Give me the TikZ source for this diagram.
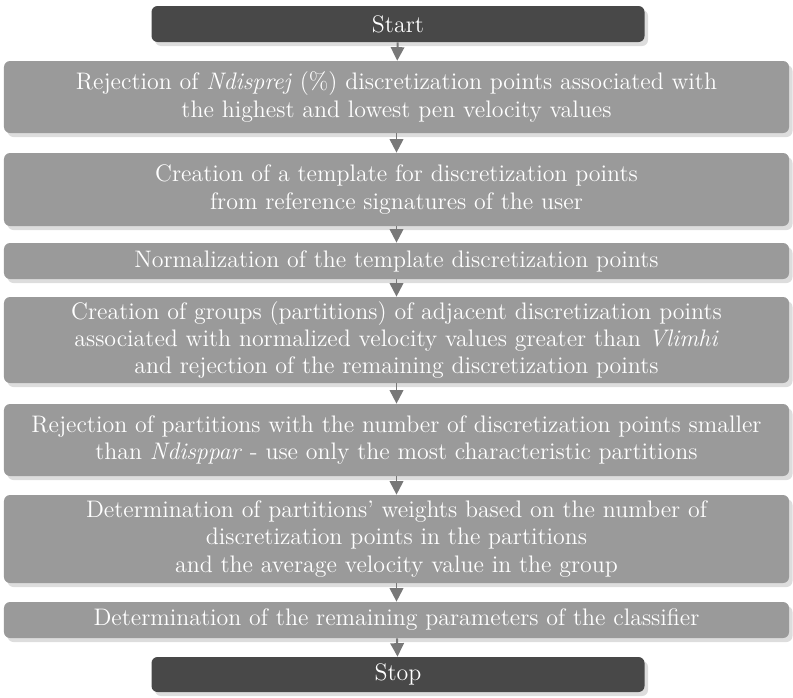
\documentclass[tikz,border=0pt]{standalone}
\usepackage{tikz}
\usetikzlibrary{positioning,shadows,arrows.meta}
\usepackage{xcolor}
\definecolor{darkbox}{HTML}{484848}
\definecolor{greybox}{HTML}{9A9A9A}
\definecolor{shadowgrey}{HTML}{DDDDDD}
\definecolor{arrowgrey}{HTML}{787878}

\tikzset{
  stepbox/.style={rounded corners=0.12cm,fill=greybox,text=white,align=center,
    minimum width=15.7cm,inner sep=2pt,
    drop shadow={shadow xshift=0.07cm,shadow yshift=-0.08cm,fill=shadowgrey,opacity=1}},
  endbox/.style={stepbox,fill=darkbox,minimum width=9.86cm},
  flow/.style={draw=arrowgrey,line width=1.1pt,-{Triangle[width=0.27cm,length=0.27cm]}}
}

\begin{document}
\begin{tikzpicture}[font=\fontsize{13.6}{15.4}\selectfont]
\useasboundingbox (0,0) rectangle (15.86,-13.94);
\node[endbox,minimum height=0.72cm] (start) at (7.96,-0.48) {Start};
\node[stepbox,minimum height=1.44cm] (rejpts) at (7.93,-1.94) {Rejection of \textit{Ndisprej} (\%) discretization points associated with\\the highest and lowest pen velocity values};
\node[stepbox,minimum height=1.46cm] (template) at (7.93,-3.79) {Creation of a template for discretization points\\from reference signatures of the user};
\node[stepbox,minimum height=0.72cm] (normal) at (7.93,-5.22) {Normalization of the template discretization points};
\node[stepbox,minimum height=1.72cm] (groups) at (7.93,-6.80) {Creation of groups (partitions) of adjacent discretization points\\associated with normalized velocity values greater than \textit{Vlimhi}\\and rejection of the remaining discretization points};
\node[stepbox,minimum height=1.44cm] (rejpart) at (7.93,-8.80) {Rejection of partitions with the number of discretization points smaller\\than \textit{Ndisppar} - use only the most characteristic partitions};
\node[stepbox,minimum height=1.76cm] (weights) at (7.93,-10.78) {Determination of partitions' weights based on the number of\\discretization points in the partitions\\and the average velocity value in the group};
\node[stepbox,minimum height=0.72cm] (params) at (7.93,-12.40) {Determination of the remaining parameters of the classifier};
\node[endbox,minimum height=0.70cm] (stop) at (7.96,-13.49) {Stop};

\draw[flow] (start) -- (rejpts);
\draw[flow] (rejpts) -- (template);
\draw[flow] (template) -- (normal);
\draw[flow] (normal) -- (groups);
\draw[flow] (groups) -- (rejpart);
\draw[flow] (rejpart) -- (weights);
\draw[flow] (weights) -- (params);
\draw[flow] (params) -- (stop);
\end{tikzpicture}
\end{document}
